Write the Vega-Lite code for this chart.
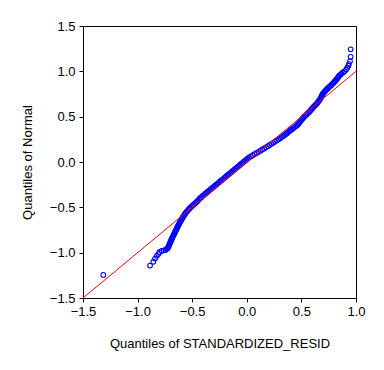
{
  "$schema": "https://vega.github.io/schema/vega-lite/v6.json",
  "width": 273,
  "height": 272,
  "autosize": {"type": "none"},
  "padding": {"left": 83, "top": 26, "right": 28, "bottom": 72},
  "background": "white",
  "config": {
    "view": {"stroke": "black", "strokeWidth": 1},
    "font": "Liberation Sans",
    "axis": {
      "grid": false,
      "domainColor": "black",
      "tickColor": "black",
      "tickSize": 4,
      "labelColor": "black",
      "labelFontSize": 13,
      "labelFont": "Liberation Sans",
      "titleFont": "Liberation Sans",
      "titleFontSize": 13,
      "titleFontWeight": "normal",
      "titleColor": "black"
    }
  },
  "datasets": {
    "pts": [
      {"resid": -1.314, "normal": -1.245},
      {"resid": -0.886, "normal": -1.142},
      {"resid": -0.856, "normal": -1.10},
      {"resid": -0.84, "normal": -1.065},
      {"resid": -0.825, "normal": -1.035},
      {"resid": -0.81, "normal": -1.015},
      {"resid": -0.80, "normal": -0.995},
      {"resid": -0.78, "normal": -0.98},
      {"resid": -0.76, "normal": -0.975},
      {"resid": -0.745, "normal": -0.97},
      {"resid": -0.735, "normal": -0.96},
      {"resid": -0.725, "normal": -0.95},
      {"resid": -0.72, "normal": -0.94},
      {"resid": -0.714, "normal": -0.925},
      {"resid": -0.71, "normal": -0.912},
      {"resid": -0.705, "normal": -0.90},
      {"resid": -0.701, "normal": -0.888},
      {"resid": -0.697, "normal": -0.875},
      {"resid": -0.692, "normal": -0.862},
      {"resid": -0.688, "normal": -0.85},
      {"resid": -0.683, "normal": -0.838},
      {"resid": -0.678, "normal": -0.825},
      {"resid": -0.673, "normal": -0.812},
      {"resid": -0.668, "normal": -0.80},
      {"resid": -0.663, "normal": -0.788},
      {"resid": -0.658, "normal": -0.775},
      {"resid": -0.653, "normal": -0.762},
      {"resid": -0.648, "normal": -0.75},
      {"resid": -0.643, "normal": -0.738},
      {"resid": -0.638, "normal": -0.725},
      {"resid": -0.633, "normal": -0.712},
      {"resid": -0.628, "normal": -0.70},
      {"resid": -0.622, "normal": -0.688},
      {"resid": -0.617, "normal": -0.675},
      {"resid": -0.611, "normal": -0.662},
      {"resid": -0.605, "normal": -0.65},
      {"resid": -0.599, "normal": -0.638},
      {"resid": -0.593, "normal": -0.625},
      {"resid": -0.587, "normal": -0.612},
      {"resid": -0.581, "normal": -0.60},
      {"resid": -0.574, "normal": -0.588},
      {"resid": -0.567, "normal": -0.575},
      {"resid": -0.56, "normal": -0.562},
      {"resid": -0.552, "normal": -0.55},
      {"resid": -0.543, "normal": -0.538},
      {"resid": -0.534, "normal": -0.525},
      {"resid": -0.525, "normal": -0.512},
      {"resid": -0.515, "normal": -0.50},
      {"resid": -0.503, "normal": -0.488},
      {"resid": -0.492, "normal": -0.475},
      {"resid": -0.48, "normal": -0.462},
      {"resid": -0.468, "normal": -0.45},
      {"resid": -0.458, "normal": -0.438},
      {"resid": -0.448, "normal": -0.425},
      {"resid": -0.438, "normal": -0.412},
      {"resid": -0.428, "normal": -0.40},
      {"resid": -0.416, "normal": -0.388},
      {"resid": -0.404, "normal": -0.375},
      {"resid": -0.392, "normal": -0.362},
      {"resid": -0.38, "normal": -0.35},
      {"resid": -0.368, "normal": -0.338},
      {"resid": -0.355, "normal": -0.325},
      {"resid": -0.342, "normal": -0.312},
      {"resid": -0.33, "normal": -0.30},
      {"resid": -0.318, "normal": -0.288},
      {"resid": -0.305, "normal": -0.275},
      {"resid": -0.292, "normal": -0.262},
      {"resid": -0.28, "normal": -0.25},
      {"resid": -0.268, "normal": -0.238},
      {"resid": -0.255, "normal": -0.225},
      {"resid": -0.242, "normal": -0.212},
      {"resid": -0.23, "normal": -0.20},
      {"resid": -0.218, "normal": -0.188},
      {"resid": -0.205, "normal": -0.175},
      {"resid": -0.192, "normal": -0.162},
      {"resid": -0.18, "normal": -0.15},
      {"resid": -0.168, "normal": -0.138},
      {"resid": -0.155, "normal": -0.125},
      {"resid": -0.142, "normal": -0.112},
      {"resid": -0.13, "normal": -0.10},
      {"resid": -0.118, "normal": -0.088},
      {"resid": -0.105, "normal": -0.075},
      {"resid": -0.092, "normal": -0.062},
      {"resid": -0.08, "normal": -0.05},
      {"resid": -0.068, "normal": -0.038},
      {"resid": -0.055, "normal": -0.025},
      {"resid": -0.042, "normal": -0.012},
      {"resid": -0.03, "normal": 0.0},
      {"resid": -0.018, "normal": 0.012},
      {"resid": -0.005, "normal": 0.025},
      {"resid": 0.008, "normal": 0.038},
      {"resid": 0.02, "normal": 0.05},
      {"resid": 0.038, "normal": 0.062},
      {"resid": 0.055, "normal": 0.075},
      {"resid": 0.072, "normal": 0.088},
      {"resid": 0.09, "normal": 0.10},
      {"resid": 0.108, "normal": 0.112},
      {"resid": 0.125, "normal": 0.125},
      {"resid": 0.142, "normal": 0.138},
      {"resid": 0.16, "normal": 0.15},
      {"resid": 0.176, "normal": 0.162},
      {"resid": 0.193, "normal": 0.175},
      {"resid": 0.209, "normal": 0.188},
      {"resid": 0.225, "normal": 0.20},
      {"resid": 0.242, "normal": 0.212},
      {"resid": 0.258, "normal": 0.225},
      {"resid": 0.274, "normal": 0.238},
      {"resid": 0.29, "normal": 0.25},
      {"resid": 0.305, "normal": 0.262},
      {"resid": 0.32, "normal": 0.275},
      {"resid": 0.335, "normal": 0.288},
      {"resid": 0.35, "normal": 0.30},
      {"resid": 0.362, "normal": 0.312},
      {"resid": 0.375, "normal": 0.325},
      {"resid": 0.388, "normal": 0.338},
      {"resid": 0.40, "normal": 0.35},
      {"resid": 0.414, "normal": 0.362},
      {"resid": 0.428, "normal": 0.375},
      {"resid": 0.442, "normal": 0.388},
      {"resid": 0.455, "normal": 0.40},
      {"resid": 0.465, "normal": 0.412},
      {"resid": 0.475, "normal": 0.425},
      {"resid": 0.483, "normal": 0.438},
      {"resid": 0.49, "normal": 0.45},
      {"resid": 0.499, "normal": 0.462},
      {"resid": 0.508, "normal": 0.475},
      {"resid": 0.517, "normal": 0.488},
      {"resid": 0.525, "normal": 0.50},
      {"resid": 0.537, "normal": 0.512},
      {"resid": 0.548, "normal": 0.525},
      {"resid": 0.559, "normal": 0.538},
      {"resid": 0.57, "normal": 0.55},
      {"resid": 0.579, "normal": 0.562},
      {"resid": 0.588, "normal": 0.575},
      {"resid": 0.597, "normal": 0.588},
      {"resid": 0.605, "normal": 0.60},
      {"resid": 0.615, "normal": 0.612},
      {"resid": 0.625, "normal": 0.625},
      {"resid": 0.635, "normal": 0.638},
      {"resid": 0.645, "normal": 0.65},
      {"resid": 0.652, "normal": 0.662},
      {"resid": 0.66, "normal": 0.675},
      {"resid": 0.668, "normal": 0.688},
      {"resid": 0.675, "normal": 0.70},
      {"resid": 0.68, "normal": 0.712},
      {"resid": 0.685, "normal": 0.725},
      {"resid": 0.69, "normal": 0.738},
      {"resid": 0.695, "normal": 0.75},
      {"resid": 0.703, "normal": 0.762},
      {"resid": 0.712, "normal": 0.775},
      {"resid": 0.721, "normal": 0.788},
      {"resid": 0.73, "normal": 0.80},
      {"resid": 0.741, "normal": 0.812},
      {"resid": 0.752, "normal": 0.825},
      {"resid": 0.763, "normal": 0.838},
      {"resid": 0.775, "normal": 0.85},
      {"resid": 0.785, "normal": 0.862},
      {"resid": 0.795, "normal": 0.875},
      {"resid": 0.805, "normal": 0.888},
      {"resid": 0.815, "normal": 0.90},
      {"resid": 0.822, "normal": 0.912},
      {"resid": 0.83, "normal": 0.925},
      {"resid": 0.838, "normal": 0.938},
      {"resid": 0.845, "normal": 0.95},
      {"resid": 0.856, "normal": 0.962},
      {"resid": 0.867, "normal": 0.975},
      {"resid": 0.88, "normal": 0.988},
      {"resid": 0.895, "normal": 1.0},
      {"resid": 0.91, "normal": 1.02},
      {"resid": 0.92, "normal": 1.04},
      {"resid": 0.93, "normal": 1.06},
      {"resid": 0.935, "normal": 1.08},
      {"resid": 0.945, "normal": 1.11},
      {"resid": 0.951, "normal": 1.16},
      {"resid": 0.951, "normal": 1.243}
    ],
    "ref": [
      {"resid": -1.5, "normal": -1.5},
      {"resid": 1.0, "normal": 1.0}
    ]
  },
  "layer": [
    {
      "data": {"name": "pts"},
      "mark": {"type": "point", "shape": "circle", "filled": false, "color": "#0000FF", "size": 22, "strokeWidth": 1.1, "opacity": 1},
      "encoding": {
        "x": {
          "field": "resid", "type": "quantitative",
          "scale": {"domain": [-1.5, 1.0], "nice": false, "zero": false},
          "axis": {"values": [-1.5, -1.0, -0.5, 0.0, 0.5, 1.0], "format": ".1f", "title": "Quantiles of STANDARDIZED_RESID", "titlePadding": 19, "labelPadding": 3, "labelFlush": false, "labelOverlap": false}
        },
        "y": {
          "field": "normal", "type": "quantitative",
          "scale": {"domain": [-1.5, 1.5], "nice": false, "zero": false},
          "axis": {"values": [-1.5, -1.0, -0.5, 0.0, 0.5, 1.0, 1.5], "format": ".1f", "title": "Quantiles of Normal", "titlePadding": 15, "labelPadding": 4, "labelFlush": false, "labelOverlap": false}
        }
      }
    },
    {
      "data": {"name": "ref"},
      "mark": {"type": "line", "color": "#FF0000", "strokeWidth": 1, "clip": true},
      "encoding": {
        "x": {"field": "resid", "type": "quantitative"},
        "y": {"field": "normal", "type": "quantitative"}
      }
    }
  ]
}
